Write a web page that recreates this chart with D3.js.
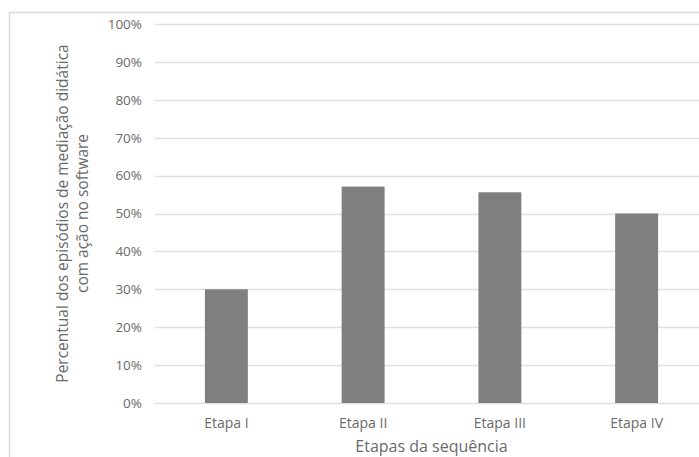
<!DOCTYPE html>
<html>
<head>
<meta charset="utf-8">
<script src="https://cdn.jsdelivr.net/npm/d3@7/dist/d3.min.js"></script>
<style>
  html, body { margin: 0; padding: 0; background: #ffffff; }
  svg { display: block; }
  text { font-family: "Open Sans", "DejaVu Sans", sans-serif; fill: #6a6a6a; }
</style>
</head>
<body>
<svg id="chart" width="699" height="457"></svg>
<script>
// Categories, values and tick labels
const categories = ["Etapa I", "Etapa II", "Etapa III", "Etapa IV"];
const values = [0.30, 0.571, 0.556, 0.50];
const yTicks = [0, 0.1, 0.2, 0.3, 0.4, 0.5, 0.6, 0.7, 0.8, 0.9, 1.0];
const xTitle = "Etapas da sequência";
const yTitleLines = ["Percentual dos episódios de mediação didática", "com ação no software"];

const svg = d3.select("#chart");
const W = 699, H = 457;
const plot = { left: 158, right: 705, top: 24, bottom: 403 };

// Chart frame (top and left edges of the chart area)
svg.append("path")
  .attr("d", `M9.5,${H} V12.5 H${W}`)
  .attr("fill", "none")
  .attr("stroke", "#d9d9d9")
  .attr("stroke-width", 1.5);

const x = d3.scaleBand()
  .domain(categories)
  .range([plot.left, plot.right])
  .paddingInner(0.686)
  .paddingOuter(0.343);

const y = d3.scaleLinear()
  .domain([0, 1])
  .range([plot.bottom, plot.top]);

// Horizontal gridlines
svg.append("g")
  .selectAll("line")
  .data(yTicks)
  .join("line")
  .attr("x1", plot.left - 3)
  .attr("x2", plot.right)
  .attr("y1", d => Math.round(y(d)) + 0.5)
  .attr("y2", d => Math.round(y(d)) + 0.5)
  .attr("stroke", "#e0e0e0")
  .attr("stroke-width", 1.5);

// Y axis tick labels
const yAxis = d3.axisLeft(y)
  .tickValues(yTicks)
  .tickFormat(d3.format(".0%"))
  .tickSize(0)
  .tickPadding(0);

const gy = svg.append("g")
  .attr("transform", `translate(${plot.left - 16},0)`)
  .call(yAxis);
gy.select(".domain").remove();
gy.selectAll("text")
  .attr("font-size", 13.5)
  .attr("font-family", "\"Open Sans\", sans-serif")
  .attr("fill", "#6a6a6a");

// Bars
svg.append("g")
  .selectAll("rect")
  .data(values)
  .join("rect")
  .attr("x", (d, i) => x(categories[i]))
  .attr("width", x.bandwidth())
  .attr("y", d => y(d))
  .attr("height", d => y(0) - y(d))
  .attr("fill", "#7f7f7f");

// X axis category labels
const xAxis = d3.axisBottom(x).tickSize(0).tickPadding(0);
const gx = svg.append("g")
  .attr("transform", `translate(0,${plot.bottom + 15})`)
  .call(xAxis);
gx.select(".domain").remove();
gx.selectAll("text")
  .attr("font-size", 14)
  .attr("font-family", "\"Open Sans\", sans-serif")
  .attr("fill", "#6a6a6a");

// X axis title
svg.append("text")
  .attr("x", (plot.left + plot.right) / 2)
  .attr("y", 446)
  .attr("text-anchor", "middle")
  .attr("dominant-baseline", "central")
  .attr("font-size", 16)
  .text(xTitle);

// Y axis title (two lines, rotated)
const yMid = (plot.top + plot.bottom) / 2;
svg.append("g")
  .selectAll("text")
  .data(yTitleLines)
  .join("text")
  .attr("transform", (d, i) => `translate(${62 + i * 20},${yMid}) rotate(-90)`)
  .attr("text-anchor", "middle")
  .attr("dominant-baseline", "central")
  .attr("font-size", 15.5)
  .text(d => d);
</script>
</body>
</html>
